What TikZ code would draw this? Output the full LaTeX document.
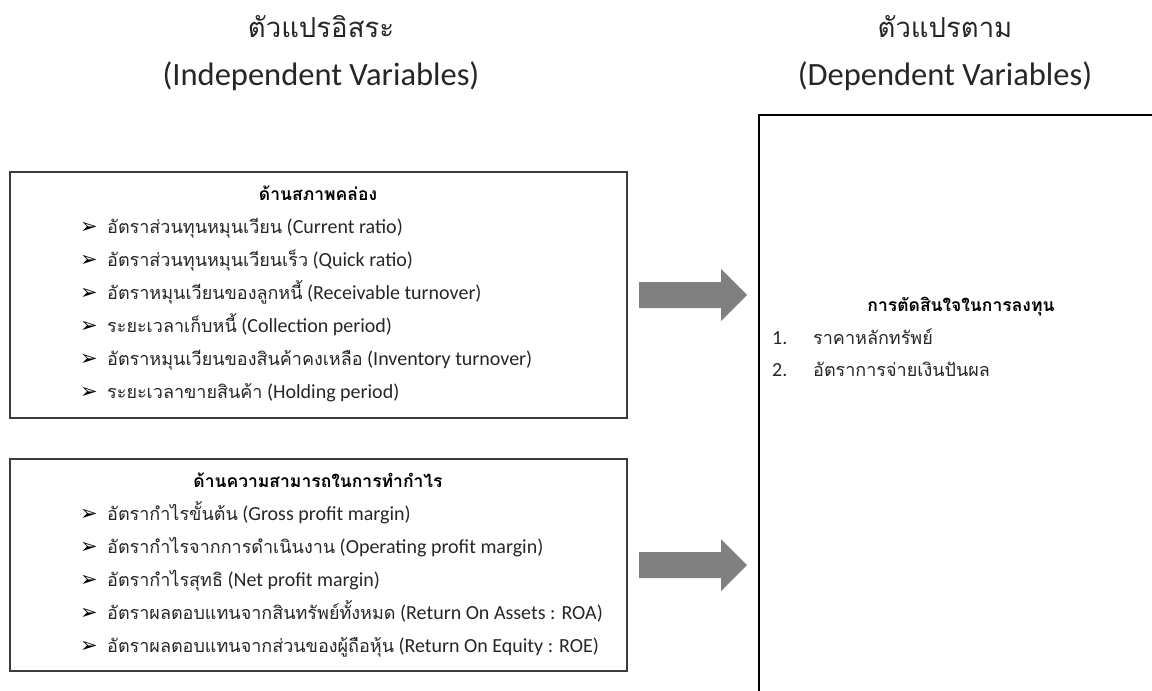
\documentclass[tikz,border=0pt]{standalone}
\usepackage{fontspec}
\setmainfont{Carlito}
\newfontfamily\thai[Script=Thai]{Loma}
\newfontfamily\symfont{DejaVu Sans}
\newcommand\thtxt[1]{{\thai\fontsize{18}{22}\selectfont #1}}
\newcommand\thbold[1]{{\thai\bfseries\fontsize{17.5}{22}\selectfont #1}}
\newcommand\thtitle[1]{{\thai\fontsize{27.5}{32}\selectfont #1}}
\definecolor{boxgray}{HTML}{3C3C3C}
\definecolor{arrowgray}{HTML}{808080}
\definecolor{txt}{HTML}{262626}
\tikzset{
  panel/.style={draw=boxgray, line width=1.5pt, minimum width=617pt, inner sep=0pt, outer sep=0pt, anchor=north west},
  deppanel/.style={draw=black, line width=1.3pt, minimum width=450pt, minimum height=620pt, inner sep=0pt, outer sep=0pt, anchor=north west},
  headtxt/.style={font=\fontsize{20}{24}\selectfont, anchor=base, text=black, inner sep=0pt},
  itemtxt/.style={font=\fontsize{20}{24}\selectfont, anchor=base west, text=txt, inner sep=0pt},
  bul/.style={font=\symfont\fontsize{21}{24}\selectfont, anchor=base west, text=black, inner sep=0pt},
  titletxt/.style={font=\fontsize{32.5}{36}\selectfont, anchor=base, text=txt, inner sep=0pt},
  blockarrow/.style={fill=arrowgray, draw=none},
}
\begin{document}
\begin{tikzpicture}[x=1pt,y=-1pt]
\useasboundingbox (0,0) rectangle (1152,691);
% titles
\node[titletxt] (t1) at (321,37) {\thtitle{ตัวแปรอิสระ}};
\node[titletxt] (t2) at (321,85) {(Independent Variables)};
\node[titletxt] (t3) at (945,37) {\thtitle{ตัวแปรตาม}};
\node[titletxt] (t4) at (945,85) {(Dependent Variables)};
% boxes
\node[panel, minimum height=246pt] (liq) at (10,172) {};
\node[panel, minimum height=212pt] (prof) at (10,459) {};
\node[deppanel] (dep) at (759,115) {};
% box 1
\node[headtxt] (h1) at (318,200) {\thbold{ด้านสภาพคล่อง}};
\foreach \y/\a/\b [count=\i] in {
  233/{อัตราส่วนทุนหมุนเวียน}/{(Current ratio)},
  266/{อัตราส่วนทุนหมุนเวียนเร็ว}/{(Quick ratio)},
  299/{อัตราหมุนเวียนของลูกหนี้}/{(Receivable turnover)},
  332/{ระยะเวลาเก็บหนี้}/{(Collection period)},
  365/{อัตราหมุนเวียนของสินค้าคงเหลือ}/{(Inventory turnover)},
  398/{ระยะเวลาขายสินค้า}/{(Holding period)}}{
  \node[bul] (b1\i) at (80,\y) {➢};
  \node[itemtxt] (i1\i) at (107,\y) {\thtxt{\a} \b};
}
% box 2
\node[headtxt] (h2) at (318,487) {\thbold{ด้านความสามารถในการทำกำไร}};
\foreach \y/\a/\b [count=\i] in {
  520/{อัตรากำไรขั้นต้น}/{(Gross profit margin)},
  553/{อัตรากำไรจากการดำเนินงาน}/{(Operating profit margin)},
  586/{อัตรากำไรสุทธิ}/{(Net profit margin)},
  619/{อัตราผลตอบแทนจากสินทรัพย์ทั้งหมด}/{(Return On Assets : ROA)},
  652/{อัตราผลตอบแทนจากส่วนของผู้ถือหุ้น}/{(Return On Equity : ROE)}}{
  \node[bul] (b2\i) at (80,\y) {➢};
  \node[itemtxt] (i2\i) at (107,\y) {\thtxt{\a} \b};
}
% dependent box
\node[headtxt] (h3) at (961,311) {\thbold{การตัดสินใจในการลงทุน}};
\node[itemtxt] (n1) at (772,344) {1.};
\node[itemtxt] (d1) at (813,344) {\thtxt{ราคาหลักทรัพย์}};
\node[itemtxt] (n2) at (772,376) {2.};
\node[itemtxt] (d2) at (813,376) {\thtxt{อัตราการจ่ายเงินปันผล}};
% block arrows
\coordinate (a1) at ([xshift=12pt]liq.east);
\coordinate (a2) at ([xshift=12pt]prof.east);
\foreach \a in {a1,a2}{
  \fill[blockarrow] (\a) ++(0,-13) -- ++(82,0) -- ++(0,-13) -- ++(26,26) -- ++(-26,26) -- ++(0,-13) -- ++(-82,0) -- cycle;
}
\end{tikzpicture}
\end{document}
